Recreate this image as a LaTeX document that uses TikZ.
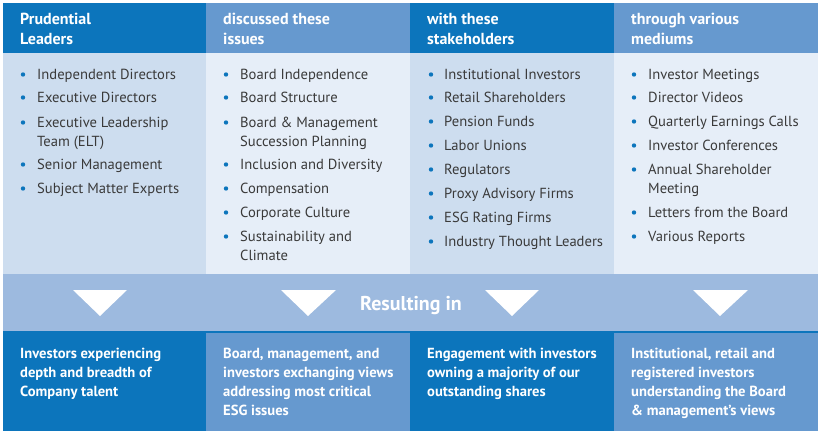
\documentclass[tikz,border=0pt]{standalone}
\usepackage{fontspec}
\setmainfont{PT Sans}
\usetikzlibrary{positioning}

\definecolor{deepblue}{HTML}{0C75BC}
\definecolor{softblue}{HTML}{6699CF}
\definecolor{paleA}{HTML}{CDDDEF}
\definecolor{paleB}{HTML}{E6EEF8}
\definecolor{bandblue}{HTML}{9DBADF}
\definecolor{itemgray}{HTML}{3A3A3A}

\tikzset{
  head/.style={anchor=base west, align=left, text=white, inner sep=0pt,
    font=\fontsize{16}{20}\selectfont\bfseries},
  item/.style={anchor=base west, align=left, text=itemgray, inner sep=0pt,
    font=\fontsize{14.6}{19}\selectfont},
  result/.style={anchor=base west, align=left, text=white, inner sep=0pt,
    font=\fontsize{14.6}{19}\selectfont\bfseries},
  dot/.style={fill=deepblue}
}

\begin{document}
\begin{tikzpicture}[x=1pt, y=-1pt]
	\useasboundingbox (0,0) rectangle (820,434);

	\fill [deepblue] (3,3) rectangle (206,53);
	\fill [softblue] (206,3) rectangle (410,53);
	\fill [deepblue] (410,3) rectangle (614,53);
	\fill [softblue] (614,3) rectangle (818,53);

	\fill [paleA] (3,53) rectangle (206,274);
	\fill [paleB] (206,53) rectangle (410,274);
	\fill [paleA] (410,53) rectangle (614,274);
	\fill [paleB] (614,53) rectangle (818,274);

	\fill [bandblue] (3,274) rectangle (818,332);

	\fill [deepblue] (3,332) rectangle (206,431);
	\fill [softblue] (206,332) rectangle (410,431);
	\fill [deepblue] (410,332) rectangle (614,431);
	\fill [softblue] (614,332) rectangle (818,431);
	\draw [deepblue, line width=1.5pt] (3,332) -- (818,332);

	% multi-line nodes sit on the baseline of their last line
	\node [head] (hleaders) at (20,44) {Prudential\\Leaders};
	\node [head] (hissues) at (223,44) {discussed these\\issues};
	\node [head] (hstake) at (427,44) {with these\\stakeholders};
	\node [head] (hmedia) at (631,44) {through various\\mediums};

	\foreach \yy/\n/\txt [count=\k] in {79/0/Independent Directors, 102/0/Executive Directors,
	    127/1/{Executive Leadership\\Team (ELT)}, 169/0/Senior Management, 193/0/Subject Matter Experts} {
		\node [item] (leader\k) at (37,\yy+19*\n) {\txt};
		\fill [dot] (23,\yy-4.5) circle (2.2);
	}

	\foreach \yy/\n/\txt [count=\k] in {79/0/Board Independence, 102/0/Board Structure,
	    127/1/{Board \& Management\\Succession Planning}, 169/0/Inclusion and Diversity,
	    193/0/Compensation, 217/0/Corporate Culture, 241/1/{Sustainability and\\Climate}} {
		\node [item] (issue\k) at (240,\yy+19*\n) {\txt};
		\fill [dot] (226,\yy-4.5) circle (2.2);
	}

	\foreach \yy/\n/\txt [count=\k] in {79/0/Institutional Investors, 102/0/Retail Shareholders,
	    126/0/Pension Funds, 150/0/Labor Unions, 174/0/Regulators, 198/0/Proxy Advisory Firms,
	    222/0/ESG Rating Firms, 246/0/Industry Thought Leaders} {
		\node [item] (stake\k) at (444,\yy+19*\n) {\txt};
		\fill [dot] (431,\yy-4.5) circle (2.2);
	}

	\foreach \yy/\n/\txt [count=\k] in {79/0/Investor Meetings, 102/0/Director Videos,
	    126/0/Quarterly Earnings Calls, 150/0/Investor Conferences,
	    174/1/{Annual Shareholder\\Meeting}, 217/0/Letters from the Board, 241/0/Various Reports} {
		\node [item] (medium\k) at (648,\yy+19*\n) {\txt};
		\fill [dot] (634,\yy-4.5) circle (2.2);
	}

	\fill [white] (73,290) -- (127,290) -- (100,316) -- cycle;
	\fill [white] (281,290) -- (336,290) -- (308,316) -- cycle;
	\fill [white] (485,290) -- (539,290) -- (512,316) -- cycle;
	\fill [white] (693,290) -- (748,290) -- (720,316) -- cycle;
	\node [anchor=base, text=white, font=\fontsize{20}{24}\selectfont\bfseries]
		(resulting) at (411,310) {Resulting in};

	\node [result] (rtalent) at (20,396) {Investors experiencing\\depth and breadth of\\Company talent};
	\node [result] (rviews) at (223,415) {Board, management, and\\investors exchanging views\\addressing most critical\\ESG issues};
	\node [result] (rshares) at (427,396) {Engagement with investors\\owning a majority of our\\outstanding shares};
	\node [result] (rboard) at (631,415) {Institutional, retail and\\registered investors\\understanding the Board\\\& management's views};
\end{tikzpicture}
\end{document}
